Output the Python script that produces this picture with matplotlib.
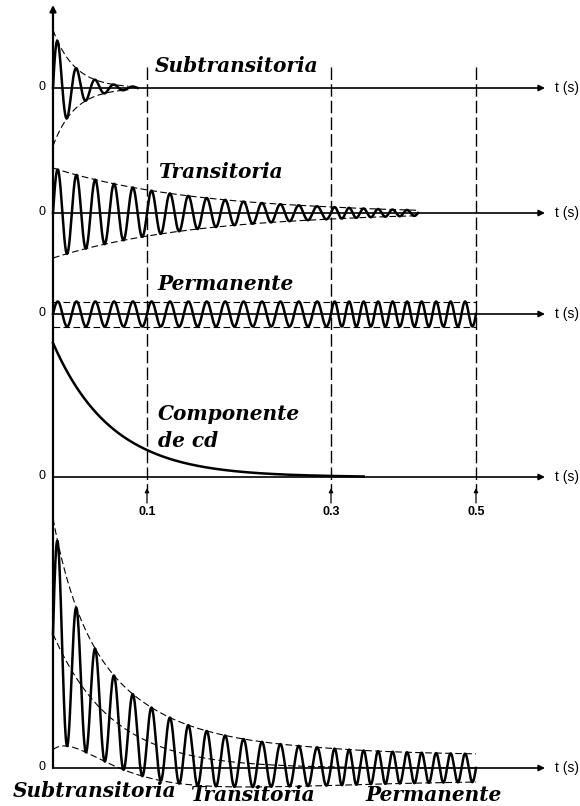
import matplotlib
matplotlib.use("Agg")
import matplotlib.pyplot as plt
import numpy as np

# --------------------------------------------------------------------------- #
# Values (amplitudes in drawing units, times in seconds)
# --------------------------------------------------------------------------- #
freq_hz = 50.0

sub_amp, sub_tau, sub_end = 58.0, 0.023, 0.09        # subtransitoria
trans_amp, trans_tau, trans_end = 45.0, 0.15, 0.42   # transitoria
perm_amp, perm_end = 12.5, 0.5                       # permanente
dc_amp, dc_tau, dc_end = 134.0, 0.0624, 0.345        # componente de cd

mark_times = [0.1, 0.3, 0.5]
mark_labels = ["0.1", "0.3", "0.5"]

panel_titles = ["Subtransitoria", "Transitoria", "Permanente", "Componente", "de cd"]
bottom_labels = ["Subtransitoria", "Transitoria", "Permanente"]

# --------------------------------------------------------------------------- #
# Layout (the original time axis is hand drawn, not linear)
# --------------------------------------------------------------------------- #
W, H = 580, 806
X0 = 53                                   # pixel column of t = 0
T_KNOTS = np.array([0.0, 0.1, 0.3, 0.5])
X_KNOTS = np.array([0.0, 94.0, 278.0, 423.0])
S_LO = (X_KNOTS[1] - X_KNOTS[0]) / (T_KNOTS[1] - T_KNOTS[0])
S_HI = (X_KNOTS[-1] - X_KNOTS[-2]) / (T_KNOTS[-1] - T_KNOTS[-2])


def _fwd(t):
    t = np.asarray(t, dtype=float)
    x = np.interp(t, T_KNOTS, X_KNOTS)
    x = np.where(t < T_KNOTS[0], (t - T_KNOTS[0]) * S_LO, x)
    x = np.where(t > T_KNOTS[-1], X_KNOTS[-1] + (t - T_KNOTS[-1]) * S_HI, x)
    return x


def _inv(x):
    x = np.asarray(x, dtype=float)
    t = np.interp(x, X_KNOTS, T_KNOTS)
    t = np.where(x < X_KNOTS[0], x / S_LO, t)
    t = np.where(x > X_KNOTS[-1], T_KNOTS[-1] + (x - X_KNOTS[-1]) / S_HI, t)
    return t


# baselines of the five traces, as pixel rows from the top
base_rows = [88, 213, 314, 477, 768]
bases = [H - r for r in base_rows]


def fxy(xp, yp):
    return xp / W, 1 - yp / H


plt.rcParams["font.family"] = ["DejaVu Sans"]
fig = plt.figure(figsize=(W / 100, H / 100), dpi=100)
ax = fig.add_axes([0, 0, 1, 1])
ax.set_xscale("function", functions=(_fwd, _inv))
ax.set_xlim(float(_inv(-X0)), float(_inv(W - X0)))
ax.set_ylim(0, H)
ax.axis("off")

w = 2 * np.pi * freq_hz
wave_kw = dict(color="black", lw=1.8, solid_joinstyle="round")
env_kw = dict(color="black", lw=0.8, linestyle=(0, (6, 3)))
arrow_kw = dict(arrowstyle="-|>", color="black", lw=1.2, mutation_scale=9,
                shrinkA=0, shrinkB=0)

# axes: one vertical with arrow, horizontal ones per trace
ax.annotate("", xy=(0, H - 5), xytext=(0, bases[-1]),
            arrowprops=dict(arrowstyle="-|>", color="black", lw=1.6,
                            mutation_scale=9, shrinkA=0, shrinkB=0))
t_axis_end = float(_inv(545 - X0))
for b, r in zip(bases, base_rows):
    ax.annotate("", xy=(t_axis_end, b), xytext=(0, b), arrowprops=arrow_kw)
    fig.text(*fxy(555, r), "t (s)", fontsize=10, ha="left", va="center",
             family="Liberation Sans")
    fig.text(*fxy(42, r - 1), "0", fontsize=9, ha="center", va="center",
             family="Liberation Sans")

# 1) subtransitoria
t = np.linspace(0, sub_end, 2000)
env = sub_amp * np.exp(-t / sub_tau)
ax.plot(t, bases[0] + env * np.sin(w * t), **wave_kw)
te = np.linspace(0, 0.08, 200)
ee = sub_amp * np.exp(-te / sub_tau)
ax.plot(te, bases[0] + ee, **env_kw)
ax.plot(te, bases[0] - ee, **env_kw)

# 2) transitoria
t = np.linspace(0, trans_end, 4000)
env = trans_amp * np.exp(-t / trans_tau)
ax.plot(t, bases[1] + env * np.sin(w * t), **wave_kw)
ax.plot(t, bases[1] + env, **env_kw)
ax.plot(t, bases[1] - env, **env_kw)

# 3) permanente
t = np.linspace(0, perm_end, 5000)
ax.plot(t, bases[2] + perm_amp * np.sin(w * t), **wave_kw)
ax.plot([0, perm_end], [bases[2] + perm_amp] * 2, **env_kw)
ax.plot([0, perm_end], [bases[2] - perm_amp] * 2, **env_kw)

# 4) componente de cd
t = np.linspace(0, dc_end, 1000)
ax.plot(t, bases[3] + dc_amp * np.exp(-t / dc_tau), **wave_kw)

# 5) total = cd + sum of ac components
t = np.linspace(0, perm_end, 6000)
dc = dc_amp * np.exp(-t / dc_tau)
ac = (sub_amp * np.exp(-t / sub_tau) + trans_amp * np.exp(-t / trans_tau)
      + perm_amp)
ax.plot(t, bases[4] + dc + ac * np.sin(w * t), **wave_kw)
ax.plot(t, bases[4] + dc + ac, **env_kw)
ax.plot(t, bases[4] + dc - ac, **env_kw)
ax.plot(t, bases[4] + dc, **env_kw)

# time markers
for tm, lab in zip(mark_times, mark_labels):
    ax.plot([tm, tm], [H - 67, H - 490], color="black", lw=1.0,
            linestyle=(0, (9, 3)))
    ax.annotate("", xy=(tm, H - 488), xytext=(tm, H - 503),
                arrowprops=dict(arrowstyle="-|>", color="black", lw=0.9,
                                mutation_scale=6, shrinkA=0, shrinkB=0))
    fig.text(*fxy(_fwd(tm) + X0, 512), lab, fontsize=9, ha="center",
             va="center", family="Liberation Sans", weight="bold")

# labels
lab_kw = dict(family="DejaVu Serif", style="italic", weight="bold",
              fontsize=14.5, ha="left", va="baseline")
title_pos = [(155, 72), (158, 178), (157, 290), (158, 420), (158, 447)]
for txt, (xp, yp) in zip(panel_titles, title_pos):
    fig.text(*fxy(xp, yp), txt, **lab_kw)
bottom_pos = [(13, 797), (190, 801), (365, 801)]
for txt, (xp, yp) in zip(bottom_labels, bottom_pos):
    fig.text(*fxy(xp, yp), txt, **lab_kw)

fig.savefig("out.png", dpi=100, facecolor="white")
